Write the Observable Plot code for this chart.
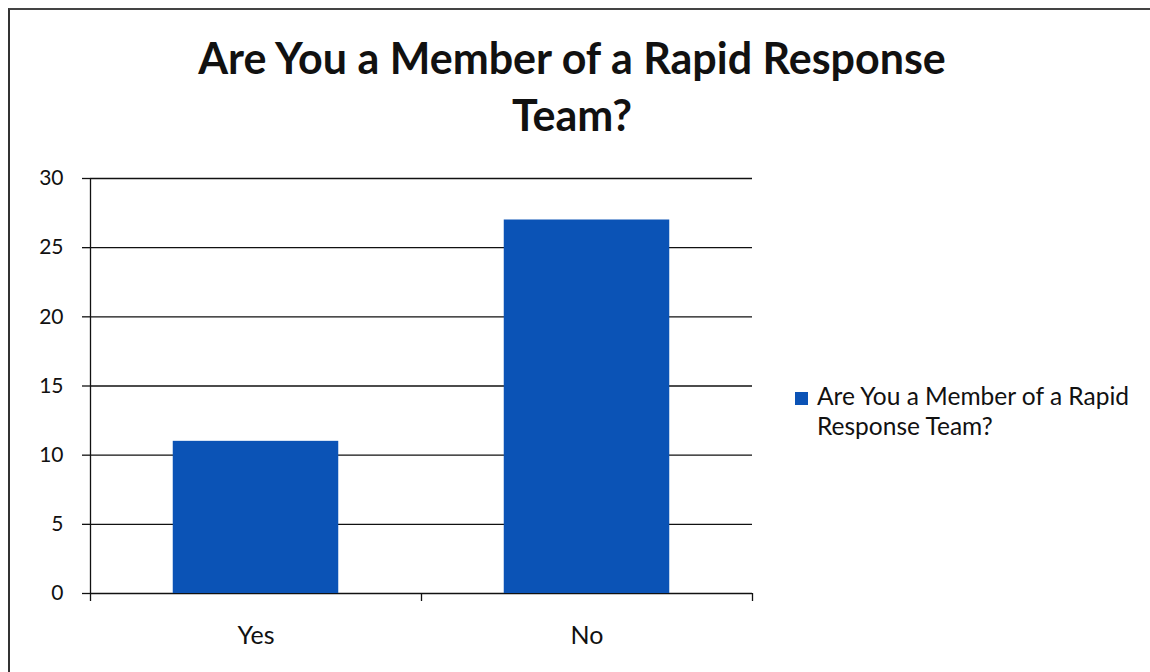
<!DOCTYPE html>
<html>
<head>
<meta charset="utf-8">
<script src="https://cdn.jsdelivr.net/npm/d3@7"></script>
<script src="https://cdn.jsdelivr.net/npm/@observablehq/plot@0.6"></script>
<style>
  html, body { margin: 0; padding: 0; background: #fff; }
  #wrap { position: relative; width: 1150px; height: 672px; overflow: hidden; font-family: Lato, "Open Sans", sans-serif; color: #111; }
  #frame { position: absolute; left: 8px; top: 8px; right: -4px; bottom: -4px; border-left: 2px solid #333; border-top: 2px solid #444; }
  #title { position: absolute; left: 0; top: 29px; width: 1144px; text-align: center; font-weight: 700; font-size: 43px; line-height: 57px; }
  #chart { position: absolute; left: 0; top: 150px; }
  #legend { position: absolute; left: 795px; top: 381px; display: flex; align-items: flex-start; }
  #legend .sw { width: 13px; height: 13px; margin-top: 11px; margin-right: 9px; }
  #legend .lab { font-size: 24.5px; line-height: 30px; width: 340px; }
</style>
</head>
<body>
<div id="wrap">
  <div id="frame"></div>
  <div id="title"></div>
  <div id="chart"></div>
  <div id="legend"></div>
</div>
<script>
const categories = ["Yes", "No"];
const counts = [11, 27];
const yTicks = [0, 5, 10, 15, 20, 25, 30];
const seriesName = "Are You a Member of a Rapid Response Team?";
const titleLines = ["Are You a Member of a Rapid Response", "Team?"];
const barColor = "#0b53b6";

const data = categories.map((c, i) => ({category: c, index: i, count: counts[i]}));
const boundaries = d3.range(categories.length + 1);
const centers = categories.map((c, i) => i + 0.5);

document.getElementById("title").innerHTML = titleLines.join("<br>");

const chart = Plot.plot({
  width: 1150,
  height: 522,
  marginLeft: 90,
  marginRight: 398,
  marginTop: 28,
  marginBottom: 79,
  style: {fontFamily: "Lato, 'Open Sans', sans-serif", fontSize: "21px", color: "#111", background: "transparent"},
  x: {type: "linear", domain: [0, categories.length], axis: null},
  y: {domain: [0, 30], axis: null},
  marks: [
    Plot.gridY(yTicks, {stroke: "#111", strokeOpacity: 1, strokeWidth: 1.3}),
    Plot.axisY(yTicks, {tickSize: 8, tickPadding: 19, stroke: "#111", strokeWidth: 1.3, fontSize: 21, fill: "#111", label: null}),
    Plot.ruleX([0], {stroke: "#111", strokeWidth: 1.3}),
    Plot.rectY(data, {x1: d => d.index + 0.25, x2: d => d.index + 0.75, y: "count", fill: barColor}),
    Plot.axisX(boundaries, {tickSize: 8, tickFormat: () => "", stroke: "#111", strokeWidth: 1.3, label: null}),
    Plot.axisX(centers, {tickSize: 0, tickPadding: 33, tickFormat: v => categories[Math.floor(v)], fontSize: 25, fill: "#111", label: null})
  ]
});
document.getElementById("chart").appendChild(chart);

const legend = document.getElementById("legend");
legend.innerHTML = `<div class="sw" style="background:${barColor}"></div><div class="lab">${seriesName.replace("Rapid ", "Rapid<br>")}</div>`;
</script>
</body>
</html>
